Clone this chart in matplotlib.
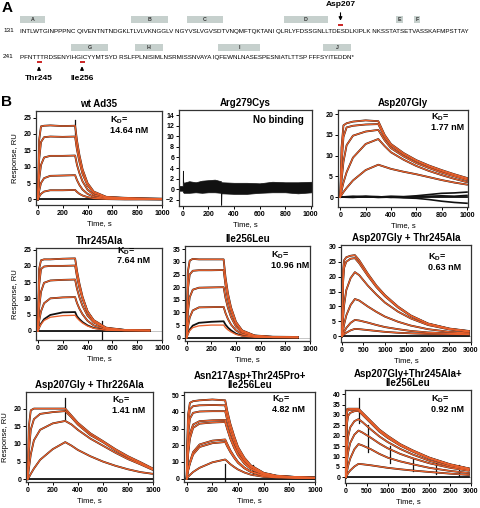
import matplotlib
matplotlib.use("Agg")
import matplotlib.pyplot as plt
from matplotlib.patches import Rectangle

plt.rcParams['font.family'] = ['Liberation Sans', 'DejaVu Sans']
plt.rcParams['font.weight'] = 'bold'
plt.rcParams['mathtext.fontset'] = 'custom'
plt.rcParams['mathtext.rm'] = 'Liberation Sans:bold'
plt.rcParams['mathtext.it'] = 'Liberation Sans:bold'

BLACK = '#111111'
ORANGE = '#e8602c'

# ---------------- panel A: sequence ----------------
seq_row1 = "INTLWTGINPPPNC QIVENTNTNDGKLTLVLVKNGGLV NGYVSLVGVSDTVNQMFTQKTANI QLRLYFDSSGNLLTDESDLKIPLK NKSSTATSETVASSKAFMPSTTAY"
seq_row2 = "PFNTTTRDSENYIHGICYYMTSYD RSLFPLNISIMLNSRMISSNVAYA IQFEWNLNASESPESNIATLTTSP FFFSYITEDDN*"
strand_names1 = ["A", "B", "C", "D", "E", "F"]
strand_names2 = ["G", "H", "I", "J"]

# ---------------- panel B: sensorgrams ----------------
t_wt = [0, 10, 25, 50, 100, 200, 300, 315, 335, 360, 400, 450, 550, 700, 850, 1000]
wt_data = [
    [0, 18, 22.3, 22.5, 22.6, 22.4, 22.5, 18.0, 13.5, 9.2, 5.0, 2.4, 0.8, 0.5, 0.3, 0.2],
    [0, 12, 17.5, 19.0, 19.2, 19.1, 19.2, 15.2, 11.5, 7.8, 4.3, 2.0, 0.7, 0.4, 0.3, 0.2],
    [0, 6, 10.5, 12.8, 13.3, 13.3, 13.4, 10.6, 8.0, 5.5, 3.0, 1.4, 0.5, 0.3, 0.2, 0.1],
    [0, 2.5, 5.0, 6.5, 7.2, 7.3, 7.4, 5.9, 4.4, 3.0, 1.7, 0.8, 0.3, 0.2, 0.1, 0.0],
    [0, 0.8, 1.7, 2.4, 2.8, 2.8, 2.9, 2.3, 1.7, 1.2, 0.7, 0.3, 0.1, 0.0, 0.0, 0.0],
]
wt_spikes = [(300, 20, 24.3)]

t_arg = [-30, -1, 0, 3, 6, 50, 100, 150, 200, 250, 298, 300, 302, 305, 400, 500, 600, 700, 800, 900, 1010]
arg_upper = [0.6, 0.6, 3.5, 1.5, 1.2, 1.5, 1.3, 1.6, 1.7, 1.8, 1.5, 1.4, 1.2, 1.3, 1.2, 1.2, 1.1, 1.4, 1.3, 1.3, 1.4]
arg_lower = [-0.3, -0.3, -0.5, -0.6, -0.7, -0.7, -0.6, -0.7, -0.6, -0.6, -0.7, -3.0, -0.7, -0.8, -0.9, -0.9, -0.7, -0.6, -0.6, -0.8, -0.6]

t_slow = [0, 10, 25, 50, 100, 200, 300, 350, 400, 500, 600, 700, 800, 900, 1000]
asp_data = [
    [0, 12, 17.3, 17.8, 18.2, 18.5, 18.3, 15.0, 12.8, 10.6, 8.9, 7.6, 6.5, 5.5, 4.6],
    [0, 8, 14.5, 16.8, 17.2, 17.5, 17.6, 14.5, 12.4, 10.3, 8.7, 7.4, 6.3, 5.3, 4.4],
    [0, 4, 8.5, 12.5, 14.8, 15.8, 16.2, 13.7, 11.8, 9.8, 8.2, 7.0, 5.9, 5.0, 4.1],
    [0, 1.5, 3.5, 6.0, 9.5, 12.8, 14.0, 12.3, 10.8, 9.0, 7.5, 6.3, 5.3, 4.4, 3.6],
    [0, 0.5, 1.2, 2.2, 4.0, 6.5, 7.8, 7.3, 6.8, 6.1, 5.5, 4.8, 4.1, 3.5, 3.0],
]
t_asp_base = [0, 100, 200, 300, 400, 500, 600, 700, 800, 900, 1000]
asp_base = [
    [0, 0.2, 0.1, 0.0, 0.2, 0.1, 0.3, 0.6, 0.9, 1.0, 1.2],
    [0, -0.1, 0.1, -0.1, 0.0, -0.2, -0.3, -0.6, -1.0, -1.3, -1.5],
    [0, 0.0, 0.2, 0.1, -0.1, 0.0, 0.1, 0.2, 0.3, 0.2, 0.4],
]

t_mid = [0, 10, 25, 50, 100, 200, 300, 315, 335, 360, 400, 450, 550, 700, 900]
thr_data = [
    [0, 19, 21.7, 22.0, 22.0, 22.2, 22.3, 18.5, 14.5, 10.5, 6.0, 3.0, 0.8, 0.3, 0.2],
    [0, 14, 19.0, 19.8, 20.0, 20.0, 20.1, 16.7, 13.2, 9.8, 6.0, 3.3, 1.0, 0.3, 0.2],
    [0, 7, 12.0, 14.8, 15.5, 15.7, 15.8, 13.0, 10.3, 7.7, 4.7, 2.6, 0.8, 0.2, 0.1],
    [0, 3, 6.0, 8.5, 10.0, 10.3, 10.4, 8.6, 6.8, 5.1, 3.1, 1.7, 0.5, 0.1, 0.1],
    [0, 1, 2.2, 3.6, 4.9, 5.7, 5.8, 4.5, 3.6, 2.7, 1.7, 0.9, 0.3, 0.1, 0.0],
]
thr_fit = thr_data[:4] + [[0, 0.9, 2.0, 3.2, 4.2, 4.7, 4.8, 4.0, 3.2, 2.4, 1.5, 0.8, 0.2, 0.1, 0.0]]
thr_spikes = [(520, -2.8, 3.0)]

ile_data = [
    [0, 26, 30.5, 31.2, 31.0, 31.0, 31.0, 24.0, 17.5, 12.0, 6.3, 2.9, 0.9, 0.4, 0.3],
    [0, 19, 25.0, 26.5, 26.7, 26.7, 26.8, 21.0, 15.4, 10.6, 5.6, 2.6, 0.8, 0.3, 0.2],
    [0, 10, 16.0, 19.0, 19.8, 19.9, 20.0, 15.8, 11.8, 8.2, 4.4, 2.1, 0.7, 0.2, 0.1],
    [0, 4, 8.0, 10.8, 12.0, 12.1, 12.2, 9.8, 7.4, 5.2, 2.9, 1.4, 0.5, 0.1, 0.1],
    [0, 1.5, 3.2, 4.8, 5.9, 6.3, 6.5, 5.2, 4.0, 2.9, 1.6, 0.8, 0.3, 0.1, 0.0],
]
ile_fit = ile_data[:4] + [[0, 1.3, 2.8, 4.0, 4.7, 5.0, 5.0, 4.0, 3.1, 2.3, 1.3, 0.7, 0.2, 0.1, 0.0]]

t_long = [0, 25, 50, 100, 200, 300, 400, 600, 800, 1000, 1300, 1600, 2000, 2500, 2950]
dt245_data = [
    [0, 22, 25.5, 26.5, 27.0, 27.2, 25.5, 21.0, 17.0, 13.8, 10.0, 7.0, 4.3, 2.6, 1.8],
    [0, 18, 23.0, 25.0, 26.0, 26.2, 24.5, 20.3, 16.5, 13.4, 9.7, 6.8, 4.2, 2.5, 1.7],
    [0, 6, 10.5, 15.5, 19.5, 21.5, 20.5, 17.0, 14.0, 11.3, 8.3, 6.0, 3.8, 2.3, 1.5],
    [0, 2, 4.0, 7.0, 10.5, 12.5, 12.0, 10.0, 8.2, 6.6, 4.9, 3.6, 2.4, 1.5, 1.1],
    [0, 0.8, 1.5, 2.8, 4.5, 5.5, 5.3, 4.6, 3.8, 3.1, 2.4, 1.8, 1.3, 1.0, 0.8],
    [0, 0.4, 0.7, 1.2, 2.0, 2.5, 2.4, 2.1, 1.8, 1.5, 1.2, 1.0, 0.8, 0.7, 0.6],
]

dt226_data = [
    [0, 15, 19.5, 20.0, 20.0, 20.0, 20.0, 18.0, 16.0, 13.0, 10.8, 8.5, 6.5, 4.8, 3.0],
    [0, 8, 14.0, 17.0, 18.5, 19.0, 19.3, 17.5, 15.5, 12.5, 10.5, 8.2, 6.2, 4.5, 2.8],
    [0, 3, 7.0, 11.0, 14.0, 15.8, 16.5, 15.5, 14.0, 11.5, 9.5, 7.5, 5.7, 4.2, 2.6],
    [0, 0.5, 1.5, 3.0, 5.5, 8.5, 10.5, 9.5, 8.3, 6.5, 5.0, 3.8, 2.8, 2.0, 1.5],
]
dt226_spikes = [(300, 17, 23)]

t_asn = [0, 10, 25, 50, 100, 200, 300, 315, 340, 370, 400, 450, 500, 600, 700, 850, 1000]
asn_data = [
    [0, 38, 45.5, 46.5, 47.0, 47.5, 47.0, 41.0, 33.0, 25.5, 19.0, 12.5, 8.0, 3.5, 1.8, 1.0, 0.7],
    [0, 32, 41.5, 43.5, 44.0, 44.2, 44.0, 38.5, 31.0, 24.0, 18.0, 11.7, 7.5, 3.3, 1.7, 1.0, 0.7],
    [0, 26, 36.0, 39.5, 40.3, 40.5, 40.5, 35.5, 28.5, 22.0, 16.5, 10.8, 7.0, 3.0, 1.5, 0.9, 0.6],
    [0, 16, 27.0, 32.5, 34.5, 35.0, 35.2, 31.0, 25.0, 19.3, 14.5, 9.5, 6.0, 2.7, 1.4, 0.8, 0.5],
    [0, 14, 24.0, 30.5, 33.0, 33.7, 34.0, 30.0, 24.0, 18.5, 14.0, 9.0, 5.8, 2.6, 1.3, 0.8, 0.5],
    [0, 5, 10.0, 16.0, 20.5, 22.8, 23.5, 21.0, 17.0, 13.3, 10.0, 6.6, 4.3, 1.9, 1.0, 0.6, 0.4],
    [0, 4.5, 9.0, 14.5, 19.0, 21.3, 22.0, 19.5, 16.0, 12.5, 9.5, 6.2, 4.0, 1.8, 0.9, 0.5, 0.3],
    [0, 1, 2.2, 4.0, 6.5, 9.8, 11.5, 10.5, 8.7, 7.0, 5.5, 3.7, 2.4, 1.1, 0.6, 0.3, 0.2],
]
asn_spikes = [(300, -1.5, 9.0), (520, 2.0, 8.0)]

t_tri = [0, 10, 25, 50, 100, 200, 300, 400, 600, 800, 1000, 1300, 1600, 2000, 2500, 2950]
tri_data = [
    [0, 30, 32.8, 33.0, 33.0, 33.0, 33.0, 31.0, 27.0, 23.0, 20.0, 16.0, 13.0, 9.5, 6.3, 4.3],
    [0, 26, 31.5, 32.3, 32.5, 32.5, 32.5, 30.5, 26.5, 22.5, 19.5, 15.6, 12.7, 9.3, 6.1, 4.2],
    [0, 18, 26.0, 29.5, 31.0, 31.8, 32.0, 30.0, 26.0, 22.0, 19.0, 15.3, 12.4, 9.0, 6.0, 4.1],
    [0, 8, 14.0, 19.5, 24.0, 27.0, 28.0, 26.5, 23.0, 19.7, 17.0, 13.7, 11.0, 8.0, 5.3, 3.7],
    [0, 4, 8.0, 12.0, 16.5, 20.5, 22.5, 21.5, 19.0, 16.3, 14.0, 11.3, 9.2, 6.8, 4.6, 3.2],
    [0, 1.5, 3.0, 5.5, 9.0, 13.5, 16.0, 15.3, 13.5, 11.3, 9.5, 7.7, 6.3, 4.6, 3.1, 2.1],
    [0, 0.5, 1.0, 2.0, 3.3, 5.2, 6.5, 6.3, 5.8, 5.2, 4.6, 3.9, 3.3, 2.6, 1.8, 1.2],
]
tri_spikes = [(300, 26, 38), (530, 12, 25), (1060, 7, 15), (1610, 3, 9), (2150, 1.5, 7.5), (2700, 0.5, 6)]

kd_values = ["14.64 nM", "1.77 nM", "7.64 nM", "10.96 nM", "0.63 nM", "1.41 nM", "4.82 nM", "0.92 nM"]

W, H = 480, 508
fig = plt.figure(figsize=(W / 100, H / 100), dpi=100)


def box(l, t, r, b):
    return [l / W, 1 - b / H, (r - l) / W, (b - t) / H]


# overlay in pixel coordinates for panel A and letters
ov = fig.add_axes([0, 0, 1, 1])
ov.set_xlim(0, W)
ov.set_ylim(H, 0)
ov.axis('off')

ov.text(7, 8, "A", fontsize=11, ha='center', va='center', fontweight='bold')
ov.text(7, 102, "B", fontsize=11, ha='center', va='center', fontweight='bold')

t1 = ov.text(20, 31, seq_row1, fontsize=4.5, va='center', fontweight='normal')
t2 = ov.text(20, 57, seq_row2, fontsize=4.5, va='center', fontweight='normal')
ov.text(3, 31, "131", fontsize=4.6, va='center', fontweight='normal')
ov.text(3, 57, "241", fontsize=4.6, va='center', fontweight='normal')
fig.canvas.draw()
rend = fig.canvas.get_renderer()
scale = (473 - 20) / t1.get_window_extent(rend).width
t1.set_fontsize(4.5 * scale)
t2.set_fontsize(4.5 * scale)

spans1 = [(20, 45), (131, 168), (187, 223), (284, 328), (396, 403), (414, 420)]
spans2 = [(71, 108), (135, 163), (218, 260), (323, 351)]
for name, (x0, x1) in zip(strand_names1, spans1):
    ov.add_patch(Rectangle((x0, 16), x1 - x0, 6.5, color='#c6d0cd', lw=0))
    ov.text((x0 + x1) / 2, 19.3, name, fontsize=3.8, ha='center', va='center', color='#333333')
for name, (x0, x1) in zip(strand_names2, spans2):
    ov.add_patch(Rectangle((x0, 44), x1 - x0, 6.5, color='#c6d0cd', lw=0))
    ov.text((x0 + x1) / 2, 47.3, name, fontsize=3.8, ha='center', va='center', color='#333333')

# mutation markers
ov.add_patch(Rectangle((338, 24), 5, 2, color='#cc2a2a', lw=0))
ov.annotate('', xy=(340.5, 23.5), xytext=(340.5, 10),
            arrowprops=dict(arrowstyle='-|>', lw=0.8, color='black', mutation_scale=5))
ov.text(340.5, 5, "Asp207", fontsize=6, ha='center', va='center')
for x, lab in [(39, "Thr245"), (82, "Ile256")]:
    ov.add_patch(Rectangle((x - 2.5, 61), 5, 2, color='#cc2a2a', lw=0))
    ov.annotate('', xy=(x, 63.5), xytext=(x, 73),
                arrowprops=dict(arrowstyle='-|>', lw=0.8, color='black', mutation_scale=5))
    ov.text(x, 78, lab, fontsize=6, ha='center', va='center')


def panel(rect, title, xlim, ylim, yticks, xticks, ylabel=False):
    ax = fig.add_axes(box(*rect))
    ax.set_xlim(*xlim)
    ax.set_ylim(*ylim)
    ax.set_yticks(yticks)
    ax.set_xticks(xticks)
    ax.tick_params(labelsize=5, length=2, width=0.7, pad=1.5)
    for s in ax.spines.values():
        s.set_linewidth(0.9)
        s.set_color('#333333')
    ax.axhline(0, color='#bbbbbb', lw=0.6, zorder=0)
    ax.set_title(title, fontsize=7, fontweight='bold', pad=3, linespacing=0.9)
    ax.set_xlabel("Time, s", fontsize=5.5, labelpad=2)
    if ylabel:
        ax.set_ylabel("Response, RU", fontsize=5.5, labelpad=3)
    return ax


def curves(ax, t, data, fit, spikes=()):
    ax.plot([t[0], t[-1]], [0, 0], color=BLACK, lw=1.3, zorder=2)
    for y in data:
        ax.plot(t, y, color=BLACK, lw=1.3, zorder=2)
    for y in fit:
        ax.plot(t, y, color=ORANGE, lw=0.95, zorder=3)
    for x, lo, hi in spikes:
        ax.plot([x, x], [lo, hi], color=BLACK, lw=0.9, zorder=2)


def kd(ax, x, y, val):
    ax.text(x, y, "K$_\\mathrm{D}$=\n" + val, transform=ax.transAxes, fontsize=6.5,
            ha='left', va='top', linespacing=0.95, zorder=5)


t200 = list(range(0, 1001, 200))
t500 = list(range(0, 3001, 500))

ax = panel((36, 111, 162, 205), "wt Ad35", (-15, 1000), (-1.7, 27), range(0, 26, 5), t200, ylabel=True)
curves(ax, t_wt, wt_data, wt_data, wt_spikes)
kd(ax, 0.59, 0.96, kd_values[0])

ax = panel((179, 110, 312, 206), "Arg279Cys", (-30, 1010), (-3.2, 15), range(-2, 15, 2), t200)
ax.fill_between(t_arg, arg_lower, arg_upper, color=BLACK, lw=0.5, zorder=2)
ax.text(0.94, 0.9, "No binding", transform=ax.transAxes, fontsize=7, ha='right', va='center')

ax = panel((338, 110, 468, 207), "Asp207Gly", (-18, 1008), (-2.4, 21), range(0, 21, 5), t200)
for y in asp_base:
    ax.plot(t_asp_base, y, color=BLACK, lw=1.2, zorder=2)
curves(ax, t_slow, asp_data, asp_data)
kd(ax, 0.715, 0.98, kd_values[1])

ax = panel((36, 248, 162, 340), "Thr245Ala", (-15, 1000), (-2.8, 25.5), range(0, 26, 5), t200, ylabel=True)
curves(ax, t_mid, thr_data, thr_fit, thr_spikes)
kd(ax, 0.64, 1.03, kd_values[2])

ax = panel((185, 246, 310, 341), "Ile256Leu", (-13, 1000), (-1.3, 36.3), range(0, 36, 5), t200)
curves(ax, t_mid, ile_data, ile_fit)
kd(ax, 0.69, 0.96, kd_values[3])

ax = panel((341, 245, 471, 342), "Asp207Gly + Thr245Ala", (-23, 3000), (-1.9, 30.6), range(0, 31, 5), t500)
curves(ax, t_long, dt245_data, dt245_data)
kd(ax, 0.67, 0.93, kd_values[4])

ax = panel((26, 392, 153, 482), "Asp207Gly + Thr226Ala", (-13, 1000), (-0.8, 24.7), range(0, 21, 5), t200, ylabel=True)
curves(ax, t_slow, dt226_data, dt226_data, dt226_spikes)
kd(ax, 0.68, 0.97, kd_values[5])

ax = panel((184, 392, 315, 482), "Asn217Asp+Thr245Pro+\nIle256Leu", (-21, 1000), (-2, 52), range(0, 51, 10), t200)
curves(ax, t_asn, asn_data, asn_data, asn_spikes)
kd(ax, 0.67, 0.98, kd_values[6])

ax = panel((345, 390, 471, 483), "Asp207Gly+Thr245Ala+\nIle256Leu", (-24, 3000), (-2.7, 42), range(0, 41, 5), t500)
curves(ax, t_tri, tri_data, tri_data, tri_spikes)
kd(ax, 0.68, 0.96, kd_values[7])

fig.savefig("out.png", dpi=100)
